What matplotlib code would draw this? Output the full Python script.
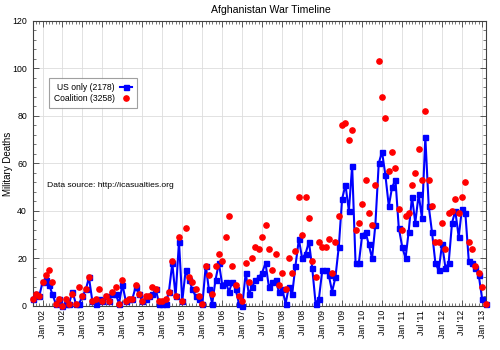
import matplotlib
matplotlib.use("Agg")
import matplotlib.pyplot as plt
import matplotlib.dates as mdates
from matplotlib.ticker import MultipleLocator
import pandas as pd

plt.rcParams['font.family'] = ['Liberation Sans', 'DejaVu Sans']

# Monthly values, Oct 2001 .. Feb 2013
start_month = "2001-10-01"
us_only = [
    3, 5, 4,                                            # 2001
    10, 11, 9, 5, 1, 3, 0, 1, 1, 6, 1, 1,               # 2002
    4, 7, 12, 2, 1, 3, 2, 4, 2, 5, 5, 1,                # 2003
    9, 2, 3, 3, 8, 5, 2, 3, 4, 5, 7, 1,                 # 2004
    1, 1, 6, 18, 4, 27, 2, 15, 11, 7, 4, 3,             # 2005
    1, 17, 7, 1, 11, 18, 9, 10, 6, 10, 7, 1,            # 2006
    0, 14, 5, 8, 11, 12, 14, 18, 8, 10, 11, 6,          # 2007
    7, 1, 8, 5, 17, 28, 20, 22, 27, 16, 1, 3,           # 2008
    15, 15, 13, 6, 12, 25, 45, 51, 40, 59, 18, 18,      # 2009
    30, 31, 26, 20, 34, 60, 65, 55, 42, 50, 53, 33,     # 2010
    25, 20, 31, 46, 35, 47, 37, 71, 42, 31, 18, 15,     # 2011
    26, 16, 18, 35, 40, 29, 41, 39, 19, 18, 16, 13,     # 2012
    3, 1,                                               # 2013
]
coalition = [
    3, 5, 4,
    10, 13, 15, 10, 1, 3, 0, 3, 1, 5, 1, 8,
    4, 7, 12, 2, 3, 7, 2, 4, 2, 6, 8, 1,
    11, 2, 3, 3, 9, 5, 2, 4, 4, 8, 7, 2,
    2, 3, 6, 19, 4, 29, 2, 33, 12, 10, 7, 4,
    1, 17, 13, 5, 17, 22, 19, 29, 38, 17, 9, 4,
    2, 18, 10, 20, 25, 24, 29, 34, 24, 15, 22, 9,
    14, 7, 20, 14, 23, 46, 30, 46, 37, 19, 12, 27,
    25, 25, 28, 14, 27, 38, 76, 77, 70, 74, 32, 35,
    43, 53, 39, 34, 51, 103, 88, 79, 57, 65, 58, 41,
    32, 38, 39, 51, 56, 66, 53, 82, 53, 42, 27, 27,
    35, 24, 39, 40, 45, 39, 46, 52, 27, 24, 17, 14,
    8, 1,
]
us_label = "US only (2178)"
coalition_label = "Coalition (3258)"
title = "Afghanistan War Timeline"
ylabel = "Military Deaths"
source_text = "Data source: http://icasualties.org"

months = pd.date_range(start_month, periods=len(us_only), freq="MS")

fig = plt.figure(figsize=(5, 3.5), dpi=100)
ax = fig.add_axes([0.065, 0.126, 0.906, 0.814])

ax.plot(months, us_only, color="#0000ff", lw=1.5, marker="s", ms=3.6,
        mec="#0000ff", mfc="#0000ff", label=us_label, zorder=3, clip_on=False)
ax.plot(months, coalition, ls="none", marker="o", ms=3.8, color="#ff0000",
        mec="#ff0000", label=coalition_label, zorder=4, clip_on=False)

ax.set_xlim(months[0], months[-1])
ax.set_ylim(0, 120)

ax.xaxis.set_major_locator(mdates.MonthLocator(bymonth=[1, 7]))
ax.xaxis.set_major_formatter(mdates.DateFormatter("%b '%y"))
ax.xaxis.set_minor_locator(mdates.MonthLocator())
ax.yaxis.set_major_locator(MultipleLocator(20))
ax.yaxis.set_minor_locator(MultipleLocator(4))

for lbl in ax.get_xticklabels():
    lbl.set_rotation(90)

ax.tick_params(which="both", direction="in", top=True, right=True,
               labelsize=6.3, colors="#404040", labelcolor="black")
ax.tick_params(which="major", length=4, width=0.6)
ax.tick_params(which="minor", length=2, width=0.5)
ax.tick_params(axis="x", pad=3)
ax.tick_params(axis="y", pad=4)

ax.grid(True, which="major", color="#dddddd", lw=0.6)
ax.set_axisbelow(True)
for s in ax.spines.values():
    s.set_color("#404040")
    s.set_linewidth(0.8)

fig.text(0.542, 0.971, title, fontsize=7.6, ha="center", va="center")
ax.set_ylabel(ylabel, fontsize=7.0)
ax.yaxis.set_label_coords(-0.042, 0.5)

ax.text(0.032, 0.421, source_text, transform=ax.transAxes, fontsize=6.1,
        ha="left", va="center")

leg = ax.legend(loc="upper left", bbox_to_anchor=(0.036, 0.80), markerfirst=False,
                fontsize=6.2, frameon=True, fancybox=False, borderaxespad=0,
                handlelength=1.4, handletextpad=0.6, labelspacing=0.3,
                borderpad=0.55)
leg.get_frame().set_edgecolor("#888888")
leg.get_frame().set_linewidth(0.8)

fig.savefig("out.png", dpi=100)
